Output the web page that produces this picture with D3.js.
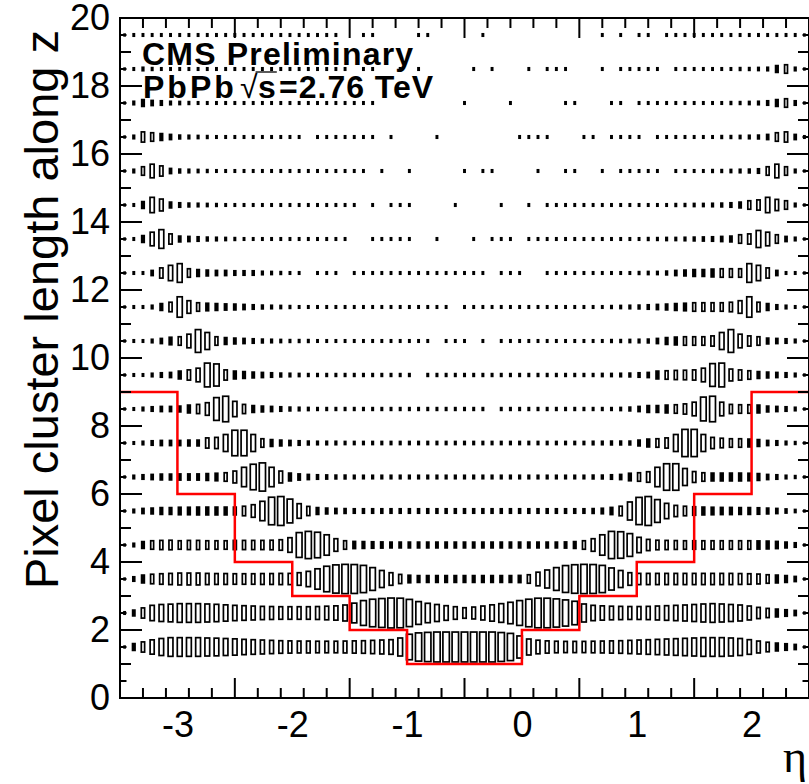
<!DOCTYPE html>
<html><head><meta charset="utf-8">
<script src="https://cdn.jsdelivr.net/npm/d3@7"></script>
<style>html,body{margin:0;padding:0;background:#fff;}svg{display:block;}</style>
</head><body>
<svg id="chart" width="809" height="784"></svg>
<script>
// ---------------- data ----------------
const etaDomain = [-3.5, 2.5];      // axis range as labelled
const nEtaBins = 75;                 // eta bins across the axis
const lengthDomain = [0, 20];
const lengthBinLow = [1,2,3,4,5,6,7,8,9,10,11,12,13,14,15,16,17,18,19];
const maxContent = 100;

// relative cell contents (box size), one array per cluster-length bin
const len1  = [10,25,35,47,55,60,60,60,60,58, 57,55,53,50,48,46,44,42,41,40, 40,39,39,39,40,41,42,44,46,48, 58,80,88,91,93,93,93,93,93,93, 93,90,85,70,52,45,41,39,38,38, 38,39,40,41,42,44,46,48,50,52, 54,56,58,60,60,60,58,55,48,40, 33,28,24,20,10];
const len2  = [12,22,35,50,55,57,60,60,60,58, 56,53,50,48,46,44,43,42,42,42, 42,43,45,47,52,63,78,86,90,93, 92,85,72,62,55,48,42,36,40,46, 53,60,68,78,86,92,92,88,82,74, 58,50,47,45,44,43,43,44,46,48, 50,52,55,58,60,58,55,52,46,38, 32,28,24,20,10];
const len3  = [10,18,28,33,36,38,40,40,40,38, 37,37,36,36,36,37,37,38,38,42, 50,65,80,88,91,90,85,72,55,42, 32,27,25,25,25,25,25,25,25,25, 25,25,25,26,30,45,58,72,84,89, 91,90,85,70,55,42,38,38,38,38, 38,38,38,38,38,38,38,37,36,34, 30,28,25,20,10];
const len4  = [10,15,25,30,32,33,30,32,32,30, 30,30,32,32,32,32,33,36,48,78, 85,80,65,42,30,26,25,24,23,22, 22,22,22,22,22,22,22,22,22,22, 22,22,22,22,22,22,22,22,23,25, 30,42,65,85,83,72,50,38,33,32, 31,30,30,30,30,30,30,30,30,29, 28,26,22,18,10];
const len5  = [10,15,20,22,25,25,27,27,28,28, 28,28,28,33,42,62,86,90,75,48, 32,25,22,20,19,18,18,18,18,18, 18,18,18,18,18,18,18,18,18,18, 18,18,18,18,18,18,18,18,18,18, 18,19,21,26,33,58,85,90,72,50, 38,33,30,28,27,26,26,25,25,24, 22,20,17,14,10];
const len6  = [10,15,18,20,22,22,23,23,23,25, 27,30,40,62,80,88,62,40,28,23, 20,18,17,16,16,15,15,15,15,15, 15,15,15,15,15,15,15,15,15,15, 15,15,15,15,15,15,15,15,15,15, 15,16,16,18,20,27,30,36,62,83, 83,55,37,30,28,28,28,28,27,25, 20,18,15,13,10];
const len7  = [10,12,15,18,20,20,20,22,22,35, 38,55,80,80,55,30,25,22,20,18, 16,15,15,15,14,14,14,14,14,14, 14,14,14,14,14,14,14,14,14,14, 14,14,14,14,14,14,14,14,14,14, 14,15,15,16,16,16,22,28,30,35, 55,85,85,55,38,33,30,30,28,25, 20,18,15,13,10];
const len8  = [10,12,15,18,20,20,22,28,32,42, 72,80,50,32,25,22,20,18,16,15, 14,13,13,13,13,13,13,13,13,13, 13,13,13,13,13,13,13,13,13,13, 0,13,13,13,13,13,13,13,13,13, 13,13,13,13,14,16,20,25,25,28, 30,35,45,75,80,45,32,30,30,28, 22,20,18,15,10];
const len9  = [10,12,12,15,18,20,28,35,45,75, 70,35,28,25,22,20,18,16,15,14, 13,13,13,13,13,13,13,13,13,13, 13,13,0,13,13,13,13,13,13,13, 13,13,13,13,13,13,13,13,13,13, 13,13,14,14,15,16,18,20,28,30, 32,33,35,45,72,75,40,35,30,25, 22,20,18,15,10];
const len10 = [10,12,12,15,20,27,30,45,72,55, 30,25,22,20,18,16,15,14,13,13, 13,12,12,12,12,12,12,12,12,12, 12,12,12,12,0,12,12,12,0,12, 0,12,12,12,12,12,12,12,12,12, 12,12,12,13,13,14,15,16,20,25, 28,30,30,30,35,55,72,45,35,30, 22,20,18,15,10];
const len11 = [10,12,12,15,25,33,65,42,30,27, 25,23,22,20,18,16,15,14,13,12, 12,12,12,12,12,12,12,12,12,12, 12,12,12,12,12,12,0,12,12,12, 12,12,12,12,12,12,12,12,12,12, 12,12,12,13,14,15,16,18,20,22, 25,27,30,30,30,30,33,42,65,33, 25,18,15,12,10];
const len12 = [10,12,12,20,35,50,60,30,25,22, 20,20,18,18,18,15,14,13,12,12, 0,12,12,12,0,12,12,12,12,12, 12,12,12,12,12,12,12,12,12,12, 0,12,12,12,0,0,12,12,12,12, 12,12,12,12,12,12,13,14,14,16, 20,22,25,25,28,30,30,30,60,50, 35,20,12,12,10];
const len13 = [10,12,25,45,60,35,22,20,18,16, 15,14,13,12,12,12,12,12,12,12, 12,12,12,12,12,0,0,12,12,12, 12,12,0,0,12,0,0,0,12,0, 12,12,12,0,12,12,12,12,12,12, 12,12,12,12,12,12,12,13,13,14, 14,15,16,17,18,20,22,30,35,55, 45,30,20,15,10];
const len14 = [10,12,25,50,40,22,18,16,15,14, 13,12,12,12,12,12,12,12,12,12, 12,12,12,12,12,12,0,12,0,12, 12,12,0,0,0,0,12,0,0,0, 0,12,0,0,12,0,12,12,12,12, 12,12,12,12,12,12,12,12,12,12, 13,13,14,14,15,16,18,22,30,35, 50,38,30,15,10];
const len15 = [10,15,30,45,35,20,16,15,14,13, 12,12,12,12,12,12,12,12,12,12, 12,12,12,12,12,12,12,0,12,0, 0,12,0,0,0,0,0,12,0,12, 12,0,0,0,0,12,0,0,12,12, 0,0,12,0,12,12,12,12,12,0, 12,12,12,12,13,13,14,15,16,18, 30,45,30,15,10];
const len16 = [10,15,35,30,25,20,16,15,14,13, 12,12,12,12,12,12,12,12,12,12, 0,12,12,12,12,12,12,12,0,12, 0,0,0,0,12,0,0,0,0,0, 0,0,0,12,12,12,12,0,0,0, 12,12,0,12,12,12,12,0,12,12, 12,12,12,12,12,13,13,14,15,16, 20,30,35,20,12];
const len17 = [10,15,25,20,18,15,14,13,12,12, 12,12,12,12,12,12,12,12,12,12, 12,12,12,12,12,12,12,12,0,0, 0,0,0,0,0,0,0,12,0,0, 0,0,12,0,0,0,0,0,12,12, 0,0,0,12,12,0,12,12,12,12, 12,12,12,12,12,12,13,13,14,15, 18,25,30,18,10];
const len18 = [10,12,15,13,12,12,12,12,12,12, 12,12,12,12,12,12,12,12,12,12, 12,12,12,12,12,0,12,12,0,0, 12,0,12,0,0,0,0,0,12,0, 12,0,0,0,12,0,12,12,12,0, 0,0,12,0,12,12,12,12,12,0, 12,12,12,12,12,12,12,13,13,14, 15,25,30,15,10];
const len19 = [10,12,12,12,12,12,12,12,12,12, 12,12,12,12,12,12,12,12,12,12, 12,12,12,12,0,0,12,12,0,0, 0,0,12,12,0,0,0,0,0,12, 0,0,0,0,0,0,0,0,0,0, 0,0,12,0,12,0,12,12,0,12, 12,12,12,12,12,12,12,12,12,12, 12,12,12,12,10];
const lengthRows = [len1,len2,len3,len4,len5,len6,len7,len8,len9,len10,len11,len12,len13,len14,len15,len16,len17,len18,len19];

// red selection cut (step function)
const cutEdges  = [-3.5, -3, -2.5, -2, -1.5, -1, 0, 0.5, 1, 1.5, 2, 2.5];
const cutLength = [9, 6, 4, 3, 2, 1, 2, 3, 4, 6, 9];

// axis labels
const xTickLabels = [-3, -2, -1, 0, 1, 2];
const yTickLabels = [0, 2, 4, 6, 8, 10, 12, 14, 16, 18, 20];

// ---------------- drawing ----------------
const svg = d3.select("#chart");
const FONT = "'Liberation Sans', Arial, Helvetica, sans-serif";
const L = 120, R = 809, T = 18, B = 698;
const x = d3.scaleLinear().domain(etaDomain).range([L, R]);
const y = d3.scaleLinear().domain(lengthDomain).range([B, T]);

svg.append("rect").attr("width", 809).attr("height", 784).attr("fill", "#fff");

// boxes
const binW = (etaDomain[1] - etaDomain[0]) / nEtaBins;
const cellW = x(etaDomain[0] + binW) - x(etaDomain[0]);
const cellH = y(0) - y(1);
const SW = 1.7;
const cells = [];
lengthRows.forEach((vals, r) => vals.forEach((v, j) => {
  if (v > 0) cells.push({eta: etaDomain[0] + binW * (j + 0.5), len: lengthBinLow[r] + 0.5, v});
}));
const gBox = svg.append("g");
cells.forEach(c => {
  const f = c.v / maxContent;
  const w = cellW * 0.92 * Math.sqrt(f), h = cellH * f;
  const cx = x(c.eta), cy = y(c.len);
  if (w > 4.6) {
    gBox.append("rect")
      .attr("x", cx - w / 2 + SW / 2).attr("y", cy - h / 2 + SW / 2)
      .attr("width", w - SW).attr("height", h - SW)
      .attr("fill", "none").attr("stroke", "#000").attr("stroke-width", SW);
  } else {
    gBox.append("rect")
      .attr("x", cx - w / 2).attr("y", cy - h / 2)
      .attr("width", w).attr("height", h).attr("fill", "#000");
  }
});

// red cut line
const cutPts = cutEdges.map((e, i) => [e, cutLength[Math.min(i, cutLength.length - 1)]]);
svg.append("path")
  .attr("d", d3.line().x(d => x(d[0])).y(d => y(d[1])).curve(d3.curveStepAfter)(cutPts))
  .attr("fill", "none").attr("stroke", "#ff0000").attr("stroke-width", 2.5);

// ticks
const xMinor = d3.range(1, 30).map(k => etaDomain[0] + 0.2 * k);
const isLongX = v => { const m = ((v - etaDomain[0]) % 1 + 1) % 1; return m < 1e-6 || m > 1 - 1e-6; };
const yMinor = d3.range(1, 40).map(k => 0.5 * k);
const yLen = v => (Math.abs(v % 2) < 1e-6 ? 22 : (Math.abs(v % 1) < 1e-6 ? 11 : 6.5));
const xLen = v => (isLongX(v) ? 20 : 10);
const gT = svg.append("g").attr("stroke", "#000").attr("stroke-width", 2);
xMinor.forEach(v => {
  gT.append("line").attr("x1", x(v)).attr("x2", x(v)).attr("y1", B).attr("y2", B - xLen(v));
  gT.append("line").attr("x1", x(v)).attr("x2", x(v)).attr("y1", T).attr("y2", T + xLen(v));
});
yMinor.forEach(v => {
  gT.append("line").attr("y1", y(v)).attr("y2", y(v)).attr("x1", L).attr("x2", L + yLen(v));
  gT.append("line").attr("y1", y(v)).attr("y2", y(v)).attr("x1", R).attr("x2", R - yLen(v));
});

// frame
svg.append("rect").attr("x", L).attr("y", T).attr("width", R - L).attr("height", B - T)
  .attr("fill", "none").attr("stroke", "#000").attr("stroke-width", 2);

// axis labels via d3 axes
const xAxis = svg.append("g").attr("transform", `translate(0,${B})`)
  .call(d3.axisBottom(x).tickValues(xTickLabels).tickSize(0).tickPadding(13).tickFormat(d => String(d)));
xAxis.select(".domain").remove();
xAxis.selectAll("text").attr("font-size", 36).attr("font-family", FONT).attr("fill", "#000");

const yAxis = svg.append("g").attr("transform", `translate(${L},0)`)
  .call(d3.axisLeft(y).tickValues(yTickLabels).tickSize(0).tickPadding(10).tickFormat(d => String(d)));
yAxis.select(".domain").remove();
yAxis.selectAll("text").attr("font-size", 36).attr("font-family", FONT).attr("fill", "#000");

// axis titles
svg.append("text").attr("transform", "translate(58,30) rotate(-90)")
  .attr("text-anchor", "end").attr("font-family", FONT).attr("font-size", 47)
  .text("Pixel cluster length along z");
svg.append("text").attr("x", 807).attr("y", 772).attr("text-anchor", "end")
  .attr("font-family", "'Liberation Serif', 'DejaVu Serif', serif").attr("font-size", 46)
  .text("η");

// CMS labels
svg.append("text").attr("x", 142).attr("y", 65).attr("font-family", FONT)
  .attr("font-weight", "bold").attr("font-size", 32).attr("letter-spacing", 1.2)
  .text("CMS Preliminary");
const t2 = svg.append("text").attr("y", 98).attr("font-family", FONT)
  .attr("font-weight", "bold").attr("font-size", 32);
t2.append("tspan").attr("x", 143).attr("letter-spacing", 3).text("PbPb");
t2.append("tspan").attr("x", 240).attr("font-weight", "normal").text("√");
t2.append("tspan").attr("x", 258).text("s");
t2.append("tspan").attr("x", 279).attr("letter-spacing", 1).text("=2.76 TeV");
try {
  const node = t2.node();
  const e4 = node.getExtentOfChar(4), e5 = node.getExtentOfChar(5);
  svg.append("line").attr("x1", e4.x + e4.width - 2).attr("x2", e5.x + e5.width + 1)
    .attr("y1", e4.y + 3).attr("y2", e4.y + 3).attr("stroke", "#000").attr("stroke-width", 1.3);
} catch (e) {}
</script>
</body></html>
